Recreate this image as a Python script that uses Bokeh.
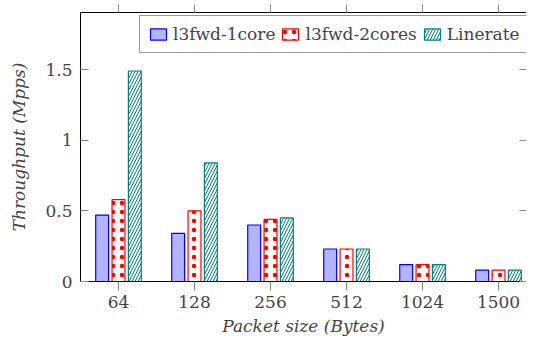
from bokeh.plotting import figure
from bokeh.models import ColumnDataSource, Range1d, LinearAxis, FixedTicker, Legend, LegendItem
from bokeh.transform import dodge
from bokeh.embed import file_html
from bokeh.resources import INLINE

categories = ["64", "128", "256", "512", "1024", "1500"]
l3fwd_1core = [0.47, 0.34, 0.40, 0.23, 0.12, 0.08]
l3fwd_2cores = [0.58, 0.50, 0.44, 0.23, 0.12, 0.08]
linerate = [1.49, 0.84, 0.45, 0.23, 0.12, 0.08]
y_ticks = [0, 0.5, 1, 1.5]
y_tick_labels = ["0", "0.5", "1", "1.5"]

pos = list(range(1, len(categories) + 1))
src = ColumnDataSource(dict(x=pos, a=l3fwd_1core, b=l3fwd_2cores, c=linerate))

FONT = "DejaVu Serif"
FS = "17px"

p = figure(frame_width=446, frame_height=269, output_backend="svg", toolbar_location=None,
           x_range=Range1d(0.5, 6.368), y_range=Range1d(0, 1.904),
           min_border_left=80, min_border_right=0, min_border_top=12, min_border_bottom=4,
           x_axis_location=None, y_axis_location=None)
p.outline_line_color = None
p.xgrid.visible = False
p.ygrid.visible = False
p.background_fill_color = "white"
p.border_fill_color = "white"

W = 0.17
OFF = 0.215
r1 = p.vbar(x=dodge("x", -OFF), top="a", width=W, source=src,
            fill_color="#b3b3ff", line_color="#0000ff", line_width=1.2)
r2 = p.vbar(x=dodge("x", 0), top="b", width=W, source=src,
            fill_color="white", line_color="#ff0000", line_width=1.2,
            hatch_pattern="dot", hatch_color="#ff0000", hatch_scale=9, hatch_weight=1.6)
r3 = p.vbar(x=dodge("x", OFF), top="c", width=W, source=src,
            fill_color="white", line_color="#008080", line_width=1.2,
            hatch_pattern="right_diagonal_line", hatch_color="#008080", hatch_scale=6, hatch_weight=1)

overrides_x = {p_: c for p_, c in zip(pos, categories)}
overrides_y = {t: l for t, l in zip(y_ticks, y_tick_labels)}

# bottom axis
xb = LinearAxis(ticker=FixedTicker(ticks=pos), major_label_overrides=overrides_x,
                axis_label="Packet size (Bytes)")
xb.major_tick_in = 0
xb.major_tick_out = 9
xb.major_tick_line_color = "#888888"
xb.minor_tick_line_color = None
xb.axis_line_color = "black"
xb.major_label_standoff = 5
xb.major_label_text_font = FONT
xb.major_label_text_font_size = FS
xb.axis_label_text_font = FONT
xb.axis_label_text_font_size = FS
xb.axis_label_text_font_style = "italic"
xb.axis_label_standoff = 5
p.add_layout(xb, "below")

# top axis (ticks only)
xt = LinearAxis(ticker=FixedTicker(ticks=pos), major_label_overrides={p_: "" for p_ in pos})
xt.major_tick_in = 0
xt.major_tick_out = 8
xt.major_tick_line_color = "#888888"
xt.minor_tick_line_color = None
xt.axis_line_color = "black"
xt.major_label_standoff = 0
p.add_layout(xt, "above")

# left axis
yl = LinearAxis(ticker=FixedTicker(ticks=y_ticks), major_label_overrides=overrides_y,
                axis_label="Throughput (Mpps)")
yl.major_tick_in = 8
yl.major_tick_out = 0
yl.major_tick_line_color = "#888888"
yl.minor_tick_line_color = None
yl.axis_line_color = "black"
yl.major_label_standoff = 8
yl.major_label_text_font = FONT
yl.major_label_text_font_size = FS
yl.axis_label_text_font = FONT
yl.axis_label_text_font_size = FS
yl.axis_label_text_font_style = "italic"
yl.axis_label_standoff = 13
p.add_layout(yl, "left")

# right axis (inner ticks only)
yr = LinearAxis(ticker=FixedTicker(ticks=y_ticks), major_label_overrides={t: "" for t in y_ticks})
yr.major_tick_in = 7
yr.major_tick_out = 0
yr.major_tick_line_color = "#888888"
yr.minor_tick_line_color = None
yr.axis_line_color = None
yr.major_label_standoff = 0
p.add_layout(yr, "right")

legend = Legend(items=[
    LegendItem(label="l3fwd-1core", renderers=[r1]),
    LegendItem(label="l3fwd-2cores", renderers=[r2]),
    LegendItem(label="Linerate", renderers=[r3]),
], orientation="horizontal", location=(59, 228))
legend.label_text_font = FONT
legend.label_text_font_size = FS
legend.glyph_width = 20
legend.glyph_height = 14
legend.label_standoff = 5
legend.spacing = 5
legend.padding = 8
legend.margin = 0
legend.border_line_color = "#333333"
legend.border_line_width = 1
legend.background_fill_alpha = 1
p.add_layout(legend, "center")

open("out.html", "w").write(file_html(p, INLINE))
